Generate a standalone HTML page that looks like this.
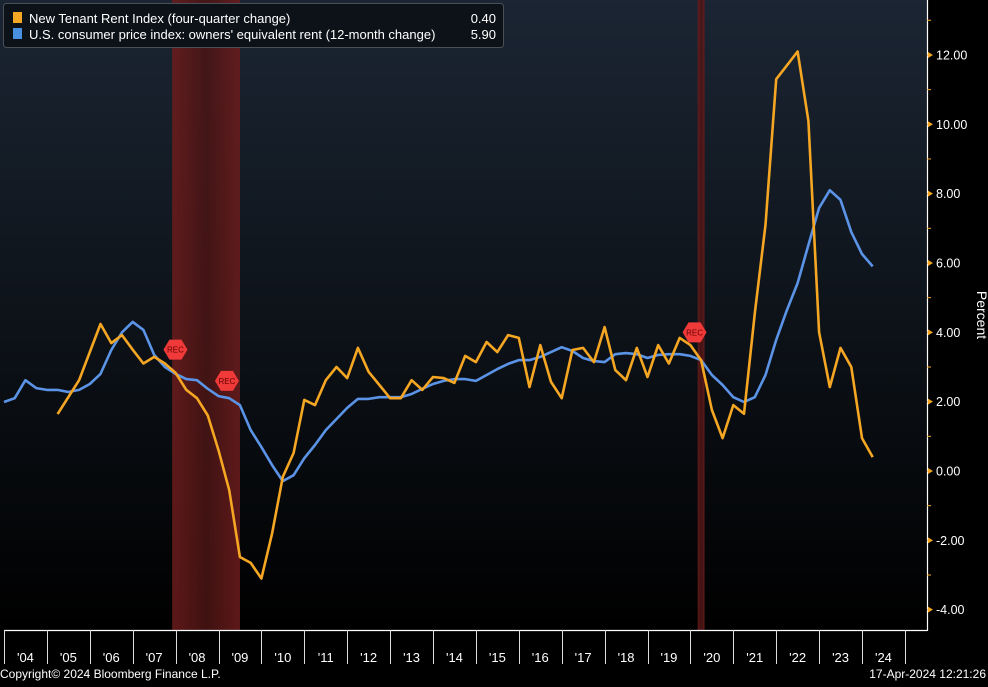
<!DOCTYPE html>
<html><head><meta charset="utf-8">
<style>
html,body{margin:0;padding:0;background:#000;}
body{width:988px;height:682px;overflow:hidden;font-family:"Liberation Sans",sans-serif;}
svg text{font-family:"Liberation Sans",sans-serif;}
</style></head>
<body>
<svg id="chart" width="988" height="682" viewBox="0 0 988 682">
<defs>
<linearGradient id="bg" x1="0" y1="0" x2="0" y2="1">
<stop offset="0" stop-color="#1b2533"/><stop offset="0.55" stop-color="#0c1117"/><stop offset="1" stop-color="#000"/>
</linearGradient>
<linearGradient id="rec" x1="0" y1="0" x2="1" y2="0">
<stop offset="0" stop-color="#6e1c1c"/><stop offset="0.5" stop-color="#4a1414"/><stop offset="1" stop-color="#6e1c1c"/>
</linearGradient>
</defs>
<rect x="0" y="0" width="988" height="682" fill="#000"/>
<rect x="0" y="0" width="927" height="630" fill="url(#bg)"/>
<g id="recessions"></g>
<g id="xaxis"></g>
<g id="yaxis"></g>
<g id="series"></g>
<g id="markers"></g>
<g>
<rect x="3.5" y="3.5" width="500" height="44" fill="#0d1218" stroke="#4a4f55" rx="3"/>
<rect x="13" y="12" width="9" height="11" fill="#f5a623"/>
<text x="29" y="23" font-size="13" fill="#fff">New Tenant Rent Index (four-quarter change)</text>
<text x="496" y="23" font-size="13" fill="#fff" text-anchor="end">0.40</text>
<rect x="13" y="28" width="9" height="11" fill="#4a90e2"/>
<text x="29" y="39" font-size="13" fill="#fff">U.S. consumer price index: owners' equivalent rent (12-month change)</text>
<text x="496" y="39" font-size="13" fill="#fff" text-anchor="end">5.90</text>
</g>
<text x="0" y="678" font-size="12" fill="#fff">Copyright© 2024 Bloomberg Finance L.P.</text>
<text x="986" y="678" font-size="12" fill="#fff" text-anchor="end">17-Apr-2024 12:21:26</text>
<text x="0" y="0" font-size="14" fill="#fff" transform="translate(977,315) rotate(90)" text-anchor="middle">Percent</text>
</svg>
<script>
const orangeStart = 2005.25;
const orangeValues = [1.64,2.13,2.62,3.43,4.24,3.69,3.92,3.5,3.1,3.29,3.1,2.83,2.34,2.1,1.6,0.6,-0.55,-2.48,-2.65,-3.1,-1.8,-0.17,0.52,2.05,1.9,2.62,3.0,2.68,3.55,2.86,2.48,2.1,2.1,2.62,2.34,2.71,2.68,2.54,3.32,3.14,3.72,3.43,3.92,3.84,2.42,3.63,2.57,2.1,3.49,3.55,3.14,4.15,2.91,2.62,3.55,2.71,3.63,3.1,3.84,3.63,3.2,1.76,0.95,1.9,1.65,4.55,7.1,11.3,11.7,12.1,10.1,4.0,2.42,3.55,3.0,0.95,0.40];
const blueStart = 2004.0;
const blueValues = [1.99,2.1,2.62,2.39,2.34,2.34,2.28,2.34,2.51,2.8,3.49,4.0,4.3,4.07,3.35,3.0,2.8,2.65,2.62,2.37,2.16,2.1,1.9,1.18,0.69,0.17,-0.29,-0.12,0.37,0.75,1.18,1.5,1.82,2.08,2.08,2.13,2.13,2.13,2.22,2.37,2.51,2.6,2.65,2.65,2.6,2.77,2.94,3.09,3.2,3.2,3.29,3.43,3.57,3.46,3.26,3.17,3.14,3.37,3.4,3.37,3.26,3.35,3.37,3.37,3.32,3.2,2.77,2.48,2.13,1.99,2.13,2.77,3.78,4.64,5.42,6.52,7.59,8.1,7.82,6.89,6.26,5.90];
const yTicks = [12,10,8,6,4,2,0,-2,-4];
const yearLabels = ["'04","'05","'06","'07","'08","'09","'10","'11","'12","'13","'14","'15","'16","'17","'18","'19","'20","'21","'22","'23","'24"];
const recessionStarts = [2007.92, 2020.17];
const recessionEnds = [2009.5, 2020.33];

const NS='http://www.w3.org/2000/svg';
function X(yr){return 4+(yr-2004)*42.9;}
function Y(v){return 471-v*34.67;}
function mk(tag,attrs,parent){const e=document.createElementNS(NS,tag);for(const k in attrs)e.setAttribute(k,attrs[k]);parent.appendChild(e);return e;}

const rec=document.getElementById('recessions');
recessionStarts.forEach((s,i)=>{
  const r=mk('rect',{x:X(s),y:0,width:X(recessionEnds[i])-X(s),height:630,fill:'url(#rec)',opacity:0.85},rec);
  
  
});

const xa=document.getElementById('xaxis');
const axl=mk('line',{x1:4,y1:630.5,x2:927,y2:630.5,stroke:'#fff','stroke-width':1.2},xa);


for(let i=0;i<=yearLabels.length;i++){
  const x=Math.round(X(2004+i))+0.5;
  const t=mk('line',{x1:x,y1:630,x2:x,y2:664,stroke:'#ddd','stroke-width':1},xa);
  
  
}
yearLabels.forEach((l,i)=>{
  const t=mk('text',{x:X(2004+i+0.5),y:662,'font-size':13,fill:'#fff','text-anchor':'middle'},xa);
  t.textContent=l;
  
  
});

const ya=document.getElementById('yaxis');
const yl=mk('line',{x1:927.5,y1:0,x2:927.5,y2:631,stroke:'#fff','stroke-width':1.2},ya);


for(let v=-4;v<=13;v++){
  const m=mk('line',{x1:927,y1:Y(v),x2:931,y2:Y(v),stroke:'#f5a623','stroke-width':1},ya);
  
  
}
yTicks.forEach(v=>{
  const p=mk('path',{d:`M928 ${Y(v)-3} L933 ${Y(v)} L928 ${Y(v)+3} Z`,fill:'#f5a623'},ya);
  
  
  const t=mk('text',{x:936,y:Y(v)+4.5,'font-size':12.5,fill:'#fff'},ya);
  t.textContent=v.toFixed(2);
  
  
});

const se=document.getElementById('series');
function line(vals,start,color,name){
  const d=vals.map((v,i)=>(i?'L':'M')+X(start+i*0.25).toFixed(1)+' '+Y(v).toFixed(1)).join(' ');
  const p=mk('path',{d:d,fill:'none',stroke:color,'stroke-width':2.6,'stroke-linejoin':'round'},se);
  
  
}
line(blueValues,blueStart,'#5b93e6','oer-line');
line(orangeValues,orangeStart,'#f5a623','new-tenant-line');

const mkr=document.getElementById('markers');
[[2007.95,3.5],[2009.15,2.6],[2020.05,4.0]].forEach(([yr,v])=>{
  const x=X(yr),y=Y(v);
  const g=mk('g',{},mkr);
  
  
  mk('path',{d:`M${x-4} ${y-10} L${x+8} ${y-10} L${x+14} ${y} L${x+8} ${y+10} L${x-4} ${y+10} L${x-10} ${y} Z`,fill:'#f03a3a'},g);
  const t=mk('text',{x:x+2,y:y+3,'font-size':8,fill:'#600','text-anchor':'middle'},g);
  t.textContent='REC';
});
</script>
</body></html>
